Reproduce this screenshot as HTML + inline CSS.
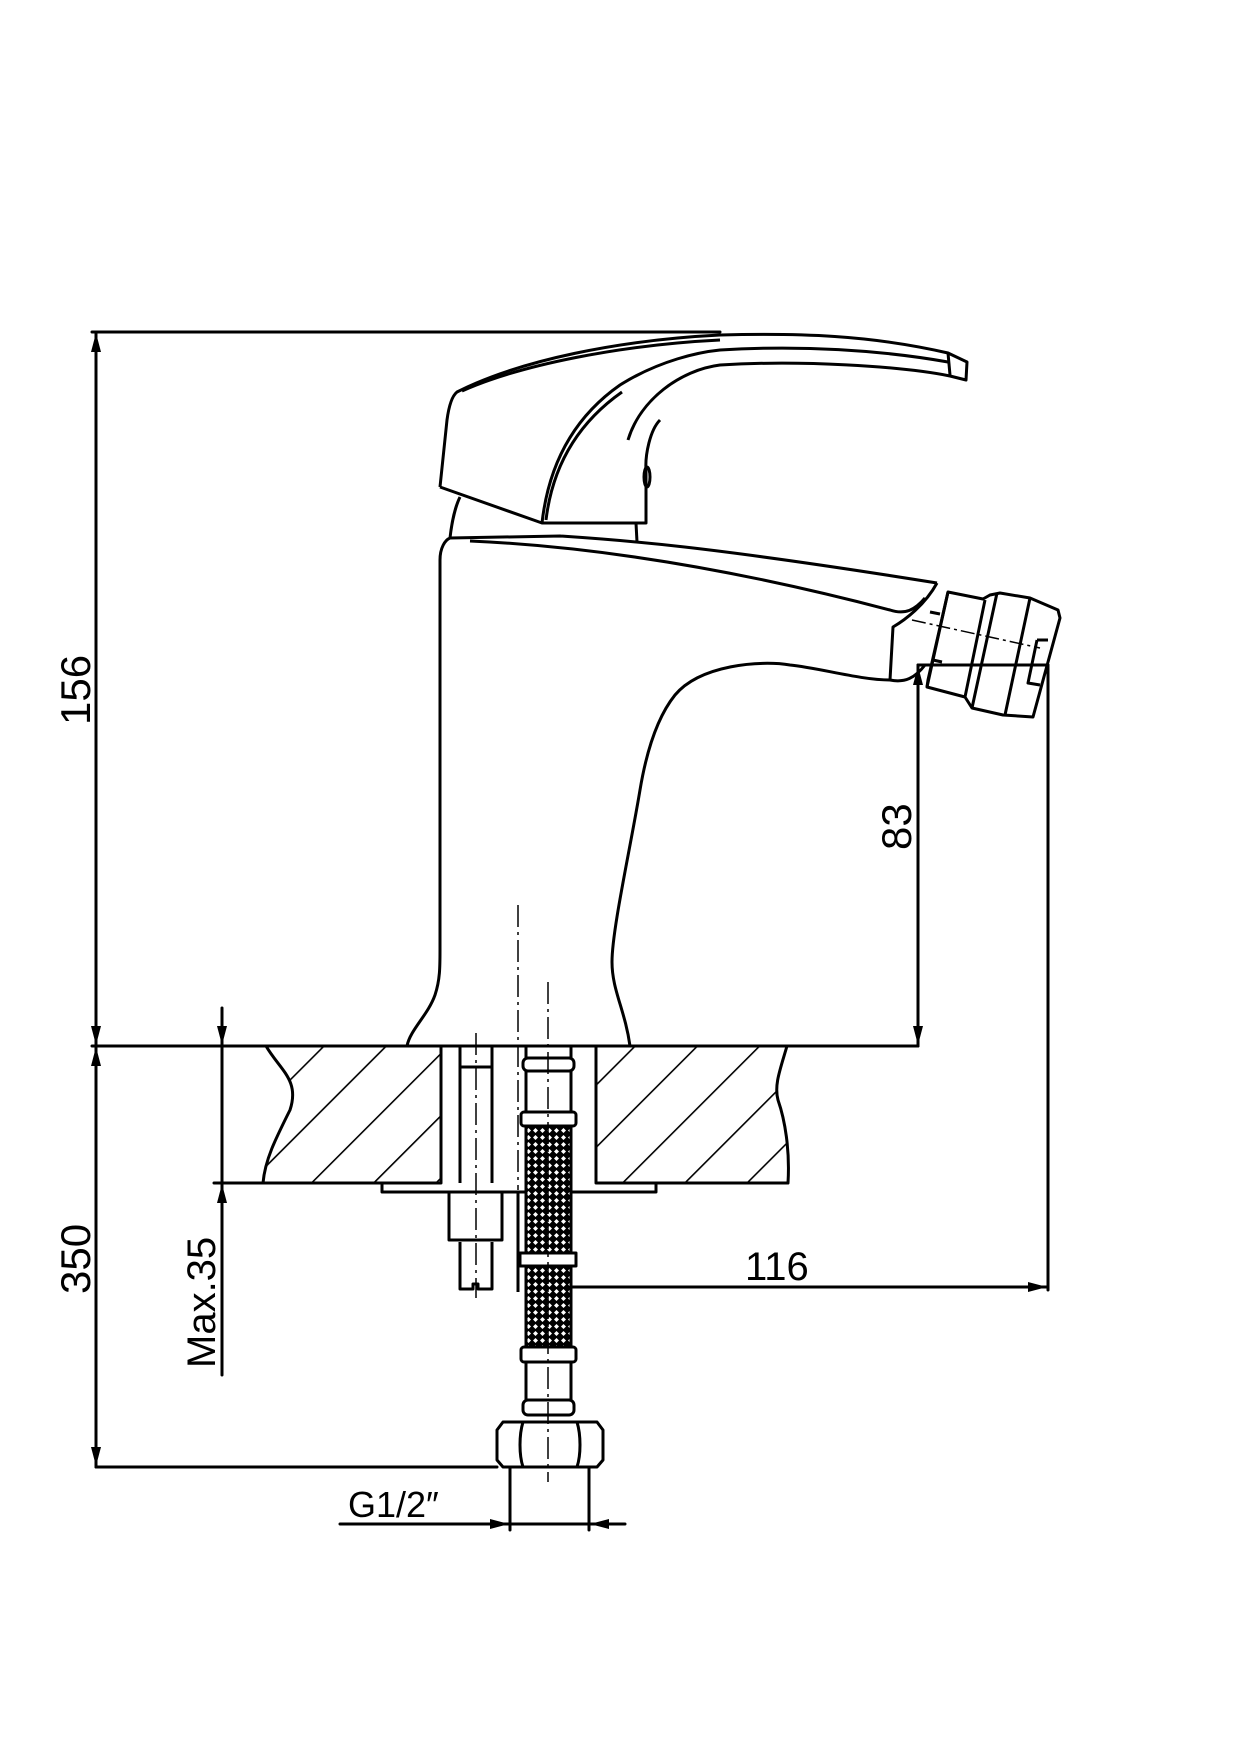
<!DOCTYPE html>
<html><head><meta charset="utf-8"><style>
html,body{margin:0;padding:0;background:#fff}
svg{display:block}
text{font-family:"Liberation Sans",sans-serif;fill:#000}
</style></head><body>
<svg width="1240" height="1754" viewBox="0 0 1240 1754" xmlns="http://www.w3.org/2000/svg">
<defs>
<pattern id="hatch" patternUnits="userSpaceOnUse" width="44" height="44" patternTransform="rotate(45)">
<line x1="0" y1="0" x2="0" y2="44" stroke="#000" stroke-width="3.2"/>
</pattern>
<pattern id="mesh" patternUnits="userSpaceOnUse" width="7" height="7">
<rect width="7" height="7" fill="#000"/>
<path d="M3.5 1 L6 3.5 L3.5 6 L1 3.5Z" fill="#fff"/>
</pattern>
<clipPath id="slabL"><path d="M266 1046 C280 1070 300 1080 290 1110 C275 1140 265 1160 263 1183 L441 1183 L441 1046Z"/></clipPath>
<clipPath id="slabR"><path d="M596 1046 L787 1046 C780 1070 774 1085 778 1100 C785 1120 790 1150 788 1183 L596 1183Z"/></clipPath>
</defs>
<g fill="none" stroke="#000" stroke-width="3" stroke-linecap="round" stroke-linejoin="round">
<line x1="92" y1="332" x2="720" y2="332"/>
<line x1="96" y1="332" x2="96" y2="1467"/>
<line x1="92" y1="1046" x2="918" y2="1046"/>
<line x1="96" y1="1467" x2="497" y2="1467"/>
<line x1="222" y1="1008" x2="222" y2="1375"/>
<line x1="214" y1="1183" x2="382" y2="1183"/>
<line x1="918" y1="665" x2="918" y2="1046"/>
<line x1="918" y1="665" x2="1048" y2="665"/>
<line x1="1048" y1="665" x2="1048" y2="1290"/>
<line x1="560" y1="1287" x2="1048" y2="1287"/>
<line x1="510" y1="1467" x2="510" y2="1530"/>
<line x1="589" y1="1467" x2="589" y2="1530"/>
<line x1="340" y1="1524" x2="625" y2="1524"/>
</g>
<g fill="#000">
<path d="M96 333 L91 352 L101 352Z"/>
<path d="M96 1045 L91 1026 L101 1026Z"/>
<path d="M96 1047 L91 1066 L101 1066Z"/>
<path d="M96 1466 L91 1447 L101 1447Z"/>
<path d="M222 1045 L217 1026 L227 1026Z"/>
<path d="M222 1184 L217 1203 L227 1203Z"/>
<path d="M918 666 L913 685 L923 685Z"/>
<path d="M918 1045 L913 1026 L923 1026Z"/>
<path d="M1047 1287 L1028 1282 L1028 1292Z"/>
<path d="M509 1524 L490 1519 L490 1529Z"/>
<path d="M590 1524 L609 1519 L609 1529Z"/>
</g>
<rect x="250" y="1046" width="200" height="137" fill="url(#hatch)" clip-path="url(#slabL)"/>
<rect x="590" y="1046" width="210" height="137" fill="url(#hatch)" clip-path="url(#slabR)"/>
<g fill="none" stroke="#000" stroke-width="3" stroke-linejoin="round">
<path d="M266 1046 C280 1070 300 1080 290 1110 C275 1140 265 1160 263 1183 L441 1183 L441 1046"/>
<path d="M596 1046 L596 1183 L788 1183 C790 1150 785 1120 778 1100 C774 1085 780 1070 787 1046"/>
<path d="M382 1183 L382 1192 L656 1192 L656 1183"/>
<path d="M460 1046 L460 1183 M492 1046 L492 1183 M460 1067 L492 1067"/>
<path d="M449 1192 L449 1240 L502 1240 L502 1192"/>
<path d="M460 1242 L460 1289 L473 1289 L473 1284 L478 1284 L478 1289 L492 1289 L492 1242"/>
<path d="M407 1046 C410 1030 428 1015 435 995 C440 980 440 967 440 950 L440 560 C440 548 445 540 450 538 L560 536 C620 540 700 545 937 583"/>
<path d="M470 541 C560 545 700 560 890 610 C905 615 915 610 925 598"/>
<path d="M937 583 C925 605 905 620 893 627 L890 680 C860 680 820 668 790 665 C760 660 700 665 675 695 C655 720 645 760 640 790 C630 850 612 930 612 962 C612 990 625 1010 630 1046"/>
<path d="M890 680 C905 683 915 678 925 665"/>
<path d="M450 538 C452 520 456 505 460 497"/>
<path d="M440 487 L447 420 C449 405 452 396 457 392 C520 360 620 340 720 335 C800 333 870 335 948 353 L967 362 L966 380 L950 376 C900 366 800 360 720 365 C680 370 640 400 628 440"/>
<path d="M462 391 C520 365 620 345 720 340"/>
<path d="M440 487 L542 523 L646 523 L646 470 C645 455 650 430 660 420"/>
<path d="M542 523 C548 470 570 420 620 385 C660 360 700 352 720 350 C800 345 880 350 948 362"/>
<path d="M546 520 C552 470 575 425 622 392"/>
<path d="M636 523 L637 542"/>
<ellipse cx="647" cy="477" rx="3" ry="10"/>
<path d="M948 353 L950 375"/>
<path d="M948 592 L983 599 L990 595 L1000 593 L1030 598 L1058 610 L1060 618 L1033 717 L1003 715 L972 708 L965 697 L927 687 L928 680 Z"/>
<path d="M948 592 L927 687 M985 600 L965 697 M997 593 L972 708 M1030 598 L1005 715"/>
<path d="M1037 640 L1048 640 M1037 640 L1028 683 L1040 685"/>
<path d="M930 612 L940 614 M933 660 L942 662"/>
</g>
<line x1="912" y1="620" x2="1040" y2="648" stroke="#000" stroke-width="1.5" stroke-dasharray="14 4 3 4"/>
<rect x="526" y="1126" width="45" height="221" fill="url(#mesh)"/>
<g fill="none" stroke="#000" stroke-width="3" stroke-linejoin="round">
<path d="M526 1046 L526 1058 M571 1046 L571 1058"/>
<rect x="523" y="1058" width="51" height="13" rx="5"/>
<path d="M526 1071 L526 1112 M571 1071 L571 1112"/>
<rect x="521" y="1112" width="55" height="14" rx="3"/>
<path d="M526 1126 L526 1347 M571 1126 L571 1347"/>
<rect x="520" y="1253" width="56" height="13" fill="#fff"/>
<path d="M518 1192 L518 1292"/>
<rect x="521" y="1347" width="55" height="15" rx="3"/>
<path d="M526 1362 L526 1400 M571 1362 L571 1400"/>
<rect x="523" y="1400" width="51" height="15" rx="5"/>
<path d="M503 1422 L597 1422 L603 1430 L603 1460 L597 1467 L503 1467 L497 1460 L497 1430Z"/>
<path d="M523 1422 C519 1435 519 1455 523 1467 M577 1422 C581 1435 581 1455 577 1467"/>
</g>
<g stroke="#000" stroke-width="1.5" stroke-dasharray="22 5 3 5" fill="none">
<line x1="518" y1="905" x2="518" y2="1190"/>
<line x1="548" y1="982" x2="548" y2="1482"/>
<line x1="476" y1="1033" x2="476" y2="1298"/>
</g>
<text transform="translate(90,725) rotate(-90)" font-size="42">156</text>
<text transform="translate(90,1294) rotate(-90)" font-size="42">350</text>
<text transform="translate(215,1368) rotate(-90)" font-size="40">Max.35</text>
<text transform="translate(911,850) rotate(-90)" font-size="42">83</text>
<text x="745" y="1280" font-size="40">116</text>
<text x="348" y="1517" font-size="36">G1/2″</text>
</svg>
</body></html>
